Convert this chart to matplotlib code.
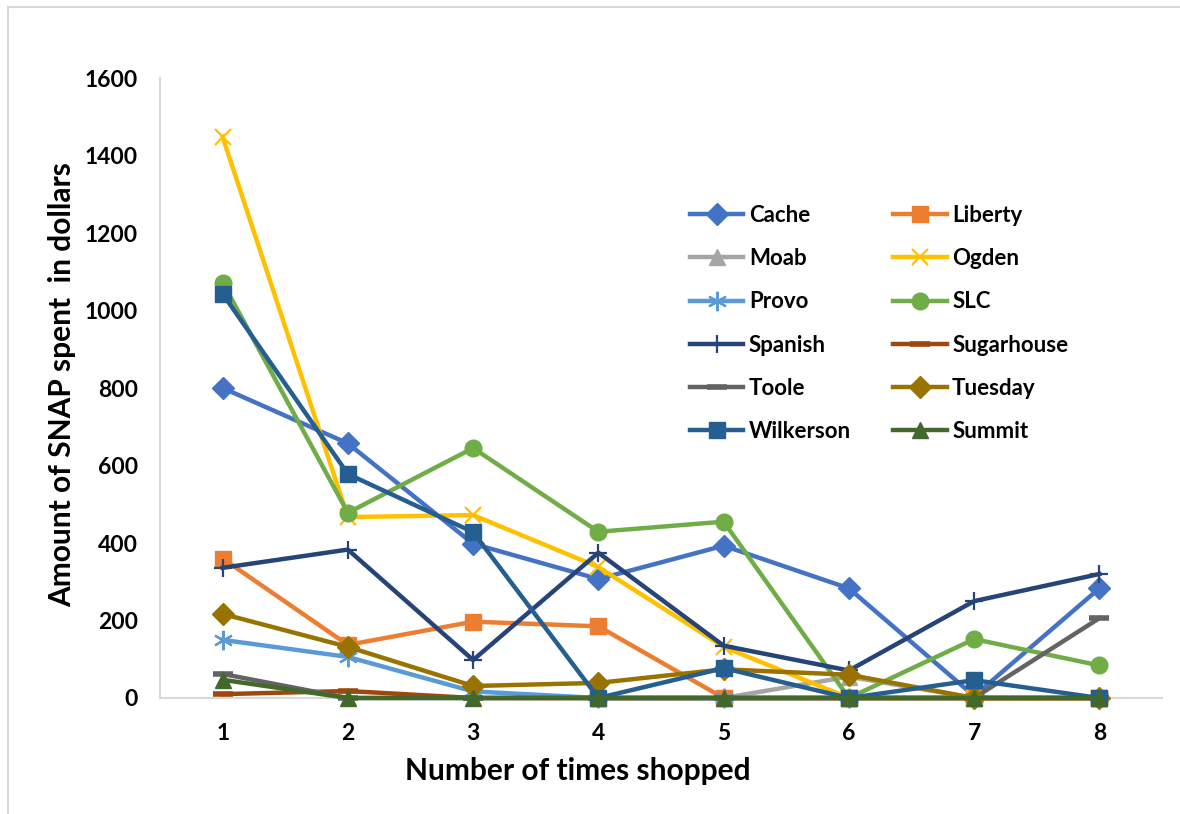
import matplotlib
matplotlib.use("Agg")
import matplotlib.pyplot as plt
from matplotlib.lines import Line2D

nan = float("nan")

times_shopped = [1, 2, 3, 4, 5, 6, 7, 8]

cache = [800, 657, 398, 307, 393, 283, 5, 283]
liberty = [360, 137, 197, 185, 0, 0, 0, 0]
moab = [nan, nan, nan, 0, 0, 55, 0, 0]
ogden = [1448, 467, 472, 338, 132, 0, 0, 0]
provo = [150, 106, 17, 0, 0, 0, 0, 0]
slc = [1072, 478, 645, 429, 455, 0, 152, 84]
spanish = [336, 383, 98, 375, 135, 71, 250, 320]
sugarhouse = [10, 18, 0, 0, 0, 0, 0, 0]
toole = [62, 0, 0, 0, 0, 0, 0, 206]
tuesday = [217, 132, 31, 39, 74, 60, 0, 0]
wilkerson = [1043, 578, 428, 0, 77, 0, 46, 0]
summit = [47, 0, 0, 0, 0, 0, 0, 0]

y_ticks = [0, 200, 400, 600, 800, 1000, 1200, 1400, 1600]

asterisk = (6, 2, 0)

series = [
    ("Cache", cache, "#4472C4", "D", 11, 1),
    ("Liberty", liberty, "#ED7D31", "s", 12, 1),
    ("Moab", moab, "#A5A5A5", "^", 12, 1),
    ("Ogden", ogden, "#FFC000", "x", 12, 1.6),
    ("Provo", provo, "#5B9BD5", asterisk, 14, 1.6),
    ("SLC", slc, "#70AD47", "o", 12, 1),
    ("Spanish", spanish, "#264478", "+", 13, 1.6),
    ("Sugarhouse", sugarhouse, "#9E480E", "_", 14, 4),
    ("Toole", toole, "#636363", "_", 14, 4),
    ("Tuesday", tuesday, "#997300", "D", 11, 1),
    ("Wilkerson", wilkerson, "#255E91", "s", 12, 1),
    ("Summit", summit, "#43682B", "^", 12, 1),
]

plt.rcParams["font.family"] = ["Lato", "DejaVu Sans"]
plt.rcParams["font.weight"] = "bold"

fig = plt.figure(figsize=(11.8, 8.14), dpi=100)
ax = fig.add_axes([160 / 1180, 1 - 698 / 814, 1002 / 1180, 620 / 814])

handles = {}
for name, vals, color, marker, ms, mew in series:
    (ln,) = ax.plot(times_shopped, vals, color=color, lw=3.2, marker=marker,
                    markersize=ms, markeredgewidth=mew, markeredgecolor=color,
                    markerfacecolor=color, label=name, clip_on=False, zorder=3)
    handles[name] = ln

ax.set_xlim(0.5, 8.5)
ax.set_ylim(0, 1600)
ax.set_xticks(times_shopped)
ax.set_yticks(y_ticks)
ax.tick_params(axis="both", length=0, labelsize=16.5)
ax.tick_params(axis="y", pad=16)
ax.tick_params(axis="x", pad=18)
for lab in ax.get_xticklabels() + ax.get_yticklabels():
    lab.set_fontweight("bold")

for side in ("top", "right"):
    ax.spines[side].set_visible(False)
for side in ("left", "bottom"):
    ax.spines[side].set_color("#D9D9D9")
    ax.spines[side].set_linewidth(1.5)

ax.set_xlabel("Number of times shopped", fontsize=21.5, fontweight="bold")
ax.set_ylabel("Amount of SNAP spent  in dollars", fontsize=21.5, fontweight="bold")
ax.xaxis.set_label_coords((578 - 160) / 1002, -(757 - 698) / 620)
ax.yaxis.set_label_coords((76 - 160) / 1002, (698 - 385) / 620)

col1 = ["Cache", "Moab", "Provo", "Spanish", "Toole", "Wilkerson"]
col2 = ["Liberty", "Ogden", "SLC", "Sugarhouse", "Tuesday", "Summit"]
order = col1 + col2
leg = fig.legend([handles[n] for n in order], order, ncol=2,
                 loc="upper left", bbox_to_anchor=(690 / 1180, 1 - 205 / 814),
                 frameon=False, prop={"size": 16, "weight": "bold"},
                 handlelength=2.4, handletextpad=0.25, labelspacing=1.0,
                 columnspacing=1.9, borderaxespad=0, borderpad=0)

fig.add_artist(Line2D([8 / 1180, 8 / 1180], [0, 1 - 7 / 814],
                      transform=fig.transFigure, color="#D9D9D9", lw=1.5))
fig.add_artist(Line2D([8 / 1180, 1], [1 - 7 / 814, 1 - 7 / 814],
                      transform=fig.transFigure, color="#D9D9D9", lw=1.5))

fig.savefig("out.png", dpi=100)
